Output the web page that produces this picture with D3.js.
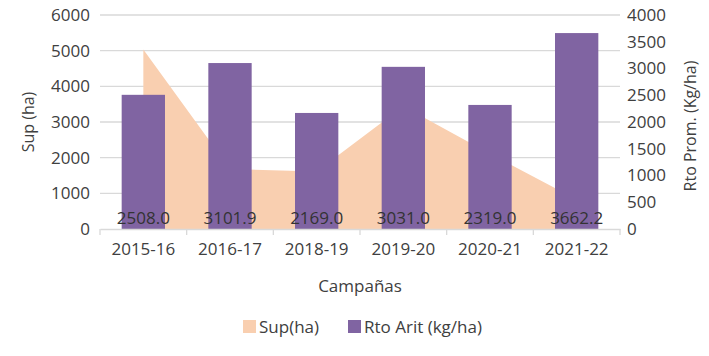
<!DOCTYPE html>
<html>
<head>
<meta charset="utf-8">
<script src="https://cdn.jsdelivr.net/npm/d3@7"></script>
<style>
  html, body { margin: 0; padding: 0; background: #fff; }
  text { font-family: "Open Sans", "Noto Sans", sans-serif; }
</style>
</head>
<body>
<svg id="chart" width="709" height="356"></svg>
<script>
const campaigns = ["2015-16", "2016-17", "2018-19", "2019-20", "2020-21", "2021-22"];
const supHa = [5030, 1680, 1610, 3440, 2110, 830];
const rtoArit = [2508.0, 3101.9, 2169.0, 3031.0, 2319.0, 3662.2];
const leftTicks = [0, 1000, 2000, 3000, 4000, 5000, 6000];
const rightTicks = [0, 500, 1000, 1500, 2000, 2500, 3000, 3500, 4000];
const seriesNames = ["Sup(ha)", "Rto Arit (kg/ha)"];
const axisTitles = { left: "Sup (ha)", right: "Rto Prom. (Kg/ha)", x: "Campañas" };

const areaColor = "#F9CFB0";
const barColor = "#8064A2";
const gridColor = "#D9D9D9";
const textColor = "#404040";

const svg = d3.select("#chart");
const plot = { left: 100, right: 620, top: 15, bottom: 229 };

const xCat = d3.scaleBand().domain(campaigns).range([plot.left, plot.right]).padding(0);
const xBar = d3.scaleBand().domain(campaigns).range([plot.left, plot.right]).paddingInner(0.5).paddingOuter(0.25);
const yL = d3.scaleLinear().domain([0, 6000]).range([plot.bottom, plot.top]);
const yR = d3.scaleLinear().domain([0, 4000]).range([plot.bottom, plot.top]);

// gridlines
svg.append("g").selectAll("line").data(leftTicks.filter(d => d > 0)).join("line")
  .attr("x1", plot.left).attr("x2", plot.right)
  .attr("y1", d => yL(d)).attr("y2", d => yL(d))
  .attr("stroke", gridColor).attr("stroke-width", 1.3);

// area
const area = d3.area()
  .x((d, i) => xCat(campaigns[i]) + xCat.bandwidth() / 2)
  .y0(yL(0)).y1(d => yL(d));
svg.append("path").datum(supHa).attr("d", area).attr("fill", areaColor);

// bars
svg.append("g").selectAll("rect").data(rtoArit).join("rect")
  .attr("x", (d, i) => xBar(campaigns[i]))
  .attr("width", xBar.bandwidth())
  .attr("y", d => yR(d))
  .attr("height", d => yR(0) - yR(d))
  .attr("fill", barColor);

// x axis
const xAxis = d3.axisBottom(xCat).tickSize(0).tickPadding(14);
const gx = svg.append("g").attr("transform", `translate(0,${plot.bottom})`).call(xAxis);
gx.select(".domain").attr("stroke", gridColor).attr("stroke-width", 1.3);
gx.selectAll("text").attr("font-size", 17).attr("fill", textColor).attr("font-family", "Open Sans");
// category boundary tick marks
const bounds = campaigns.map(c => xCat(c)).concat([plot.right]);
svg.append("g").selectAll("line").data(bounds).join("line")
  .attr("x1", d => d).attr("x2", d => d)
  .attr("y1", plot.bottom).attr("y2", plot.bottom + 6)
  .attr("stroke", gridColor).attr("stroke-width", 1.3);

// left axis
const gl = svg.append("g").attr("transform", `translate(${plot.left},0)`)
  .call(d3.axisLeft(yL).tickValues(leftTicks).tickFormat(d3.format("d")).tickSize(0).tickPadding(10));
gl.select(".domain").remove();
gl.selectAll("text").attr("font-size", 17).attr("fill", textColor).attr("font-family", "Open Sans");

// right axis
const gr = svg.append("g").attr("transform", `translate(${plot.right},0)`)
  .call(d3.axisRight(yR).tickValues(rightTicks).tickFormat(d3.format("d")).tickSize(0).tickPadding(7));
gr.select(".domain").remove();
gr.selectAll("text").attr("font-size", 17).attr("fill", textColor).attr("font-family", "Open Sans");

// data labels
svg.append("g").selectAll("text").data(rtoArit).join("text")
  .attr("x", (d, i) => xCat(campaigns[i]) + xCat.bandwidth() / 2)
  .attr("y", 224)
  .attr("text-anchor", "middle")
  .attr("font-size", 17).attr("fill", "#333")
  .text(d => d3.format(".1f")(d));

// axis titles
svg.append("text").attr("transform", "translate(34,122) rotate(-90)")
  .attr("text-anchor", "middle").attr("font-size", 16).attr("fill", textColor).text(axisTitles.left);
svg.append("text").attr("transform", "translate(696,126) rotate(-90)")
  .attr("text-anchor", "middle").attr("font-size", 16).attr("fill", textColor).text(axisTitles.right);
svg.append("text").attr("x", 360).attr("y", 292)
  .attr("text-anchor", "middle").attr("font-size", 17).attr("fill", textColor).text(axisTitles.x);

// legend
const legend = svg.append("g");
const legendItems = [
  { name: seriesNames[0], color: areaColor, x: 243 },
  { name: seriesNames[1], color: barColor, x: 348 }
];
legendItems.forEach(it => {
  legend.append("rect").attr("x", it.x).attr("y", 320).attr("width", 13).attr("height", 13).attr("fill", it.color);
  legend.append("text").attr("x", it.x + 16).attr("y", 333)
    .attr("font-size", 17).attr("fill", textColor).text(it.name);
});
</script>
</body>
</html>
